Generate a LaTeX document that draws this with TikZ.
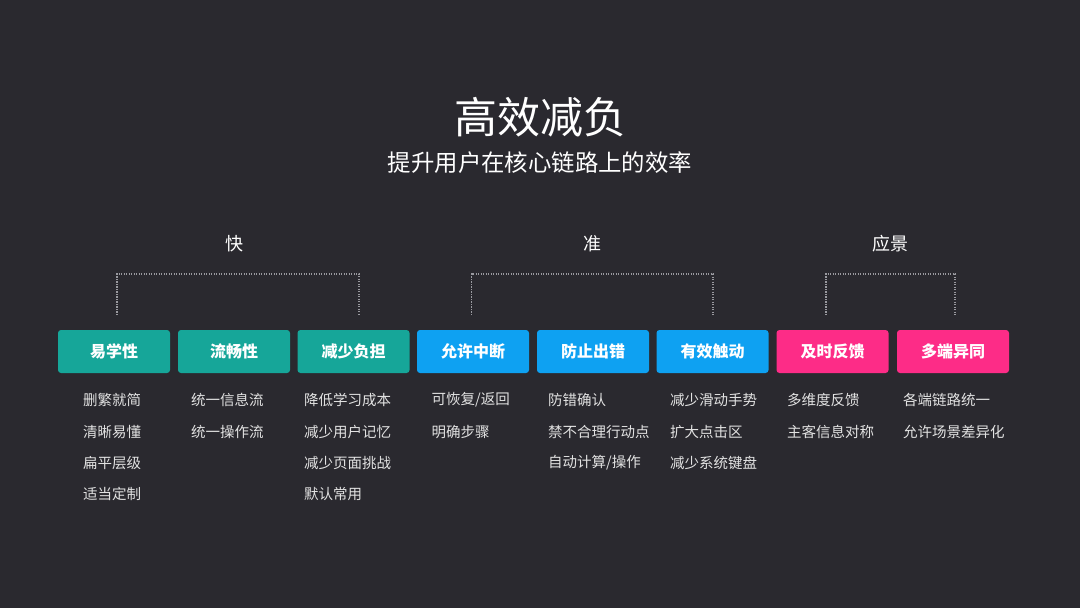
\documentclass[tikz,border=0pt]{standalone}
\usepackage{fontspec}
\setmainfont{Noto Sans CJK SC}
\newfontfamily\cjk{Noto Sans CJK SC}
\definecolor{bg}{HTML}{2A292F}
\definecolor{teal}{HTML}{16A699}
\definecolor{sky}{HTML}{0EA1F2}
\definecolor{rose}{HTML}{FD2C87}
\definecolor{itemc}{HTML}{E2E2E2}
\definecolor{dotc}{HTML}{9A9AA0}
\begin{document}
\begin{tikzpicture}[x=1pt,y=-1pt,
  box/.style={rectangle, rounded corners=3pt, minimum width=112pt, minimum height=43pt, inner sep=0pt, text=white, font=\cjk\bfseries\fontsize{16}{16}\selectfont},
  item/.style={anchor=west, inner sep=0pt, text=itemc, font=\cjk\fontsize{14.5}{14.5}\selectfont},
  grp/.style={inner sep=0pt, text=white, font=\cjk\fontsize{18}{18}\selectfont},
  bracket/.style={draw=dotc, line width=1.2pt, dash pattern=on 1.2pt off 1.3pt}]
\fill[bg] (0,0) rectangle (1080,608);
\useasboundingbox (0,0) rectangle (1080,608);
\node[text=white, inner sep=0pt, font=\cjk\fontsize{43}{43}\selectfont] (title) at (540,117) {高效减负};
\node[text=white, inner sep=0pt, font=\cjk\fontsize{23.4}{23.4}\selectfont] (sub) at (540,163) {提升用户在核心链路上的效率};
\node[grp] (g1) at (234,244) {快};
\node[grp] (g2) at (592,244) {准};
\node[grp] (g3) at (890,244) {应景};
\node[box, fill=teal] (b1) at (114,351.5) {易学性};
\node[box, fill=teal] (b2) at (234,351.5) {流畅性};
\node[box, fill=teal] (b3) at (353.5,351.5) {减少负担};
\node[box, fill=sky] (b4) at (473,351.5) {允许中断};
\node[box, fill=sky] (b5) at (593,351.5) {防止出错};
\node[box, fill=sky] (b6) at (712.5,351.5) {有效触动};
\node[box, fill=rose] (b7) at (832.5,351.5) {及时反馈};
\node[box, fill=rose] (b8) at (953,351.5) {多端异同};
% brackets
\coordinate (k1) at (117,315); \coordinate (k2) at (117,274);
\coordinate (k3) at (359,274); \coordinate (k4) at (359,315);
\coordinate (z1) at (471.5,315); \coordinate (z2) at (471.5,274);
\coordinate (z3) at (713,274); \coordinate (z4) at (713,315);
\coordinate (y1) at (826,315); \coordinate (y2) at (826,274);
\coordinate (y3) at (955,274); \coordinate (y4) at (955,315);
\draw[bracket] (k1) -- (k2) -- (k3) -- (k4);
\draw[bracket] (z1) -- (z2) -- (z3) -- (z4);
\draw[bracket] (y1) -- (y2) -- (y3) -- (y4);
% items
\node[item] (a1) at (83,400) {删繁就简};
\node[item] (a2) at (83,432) {清晰易懂};
\node[item] (a3) at (83,463) {扁平层级};
\node[item] (a4) at (83,494) {适当定制};
\node[item] (c1) at (191,400) {统一信息流};
\node[item] (c2) at (191,432) {统一操作流};
\node[item] (d1) at (304,400) {降低学习成本};
\node[item] (d2) at (304,432) {减少用户记忆};
\node[item] (d3) at (304,463) {减少页面挑战};
\node[item] (d4) at (304,494) {默认常用};
\node[item] (e1) at (431.5,400) {可恢复/返回};
\node[item] (e2) at (431.5,432) {明确步骤};
\node[item] (f1) at (548,400) {防错确认};
\node[item] (f2) at (548,432) {禁不合理行动点};
\node[item] (f3) at (548,463) {自动计算/操作};
\node[item] (h1) at (670,400) {减少滑动手势};
\node[item] (h2) at (670,432) {扩大点击区};
\node[item] (h3) at (670,463) {减少系统键盘};
\node[item] (m1) at (787,400) {多维度反馈};
\node[item] (m2) at (787,432) {主客信息对称};
\node[item] (n1) at (903,400) {各端链路统一};
\node[item] (n2) at (903,432) {允许场景差异化};
\end{tikzpicture}
\end{document}
